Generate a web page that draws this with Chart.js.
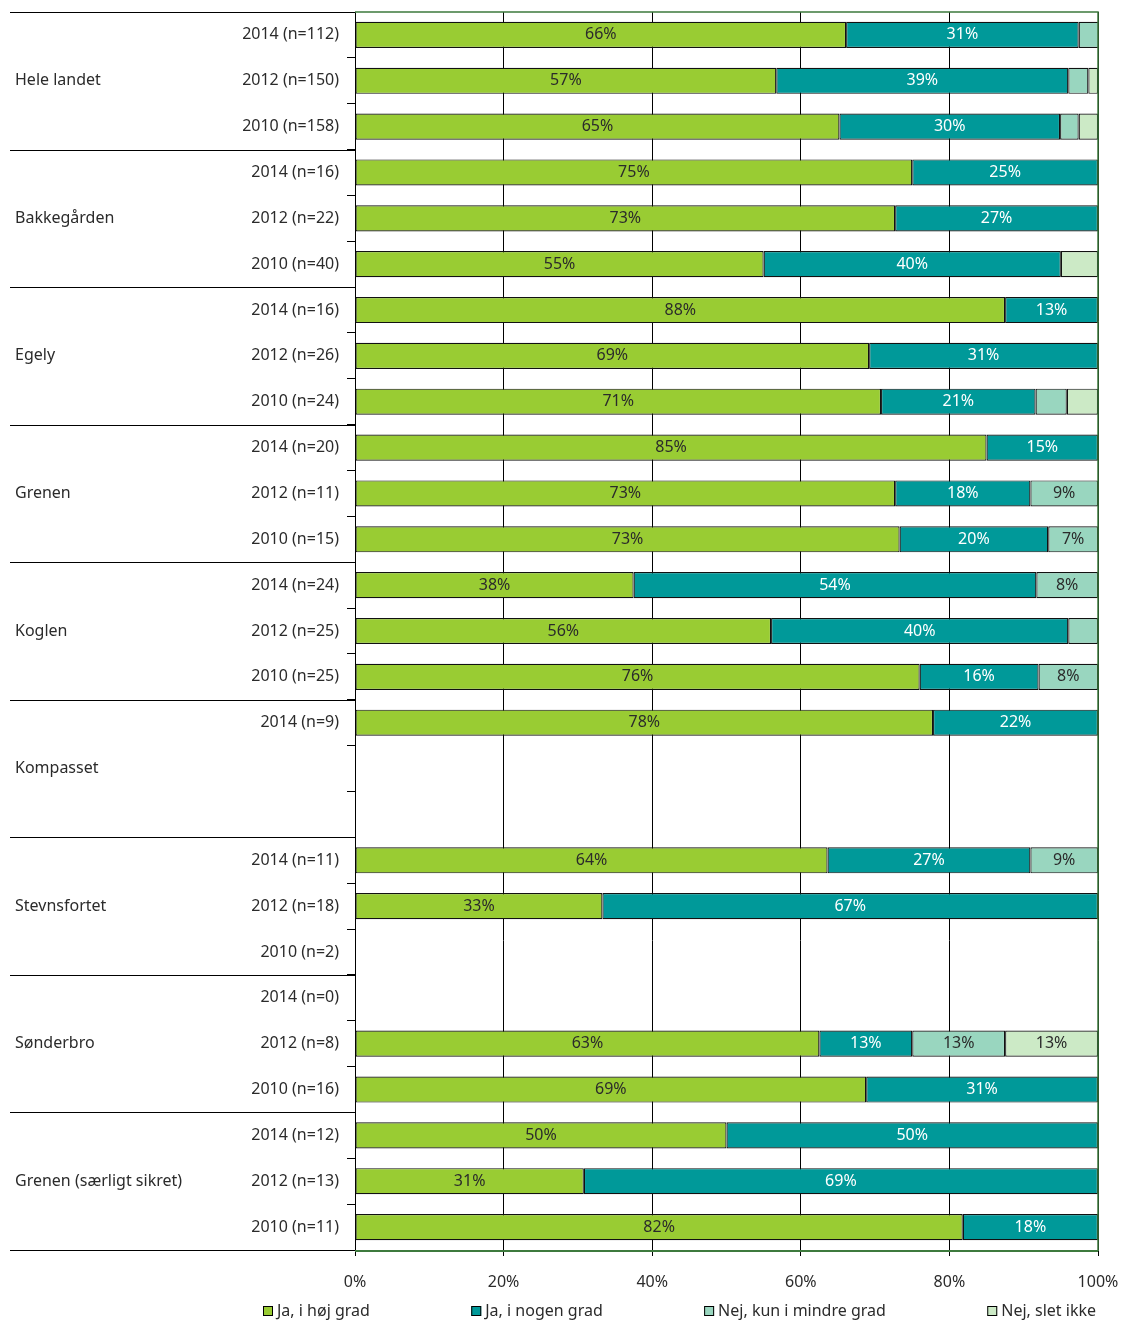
<!DOCTYPE html>
<html>
<head>
<meta charset="utf-8">
<script src="https://cdn.jsdelivr.net/npm/chart.js@4.4.1/dist/chart.umd.min.js"></script>
<style>
  html, body { margin: 0; padding: 0; background: #fff; }
  #chart { display: block; }
</style>
</head>
<body>
<canvas id="chart" width="1121" height="1321"></canvas>
<script>
// ---- データ ----
const groups = ['Hele landet', 'Bakkegården', 'Egely', 'Grenen', 'Koglen',
  'Kompasset', 'Stevnsfortet', 'Sønderbro', 'Grenen (særligt sikret)'];

const rowLabels = [
  '2014 (n=112)', '2012 (n=150)', '2010 (n=158)',
  '2014 (n=16)', '2012 (n=22)', '2010 (n=40)',
  '2014 (n=16)', '2012 (n=26)', '2010 (n=24)',
  '2014 (n=20)', '2012 (n=11)', '2010 (n=15)',
  '2014 (n=24)', '2012 (n=25)', '2010 (n=25)',
  '2014 (n=9)', '', '',
  '2014 (n=11)', '2012 (n=18)', '2010 (n=2)',
  '2014 (n=0)', '2012 (n=8)', '2010 (n=16)',
  '2014 (n=12)', '2012 (n=13)', '2010 (n=11)',
];

const seriesNames = ['Ja, i høj grad', 'Ja, i nogen grad', 'Nej, kun i mindre grad', 'Nej, slet ikke'];
const seriesColors = ['#99cc33', '#009999', '#99d6bf', '#cceac6'];

const hoejGrad = [
  66.1, 56.7, 65.2,
  75, 72.7, 55,
  87.5, 69.2, 70.8,
  85, 72.7, 73.3,
  37.5, 56, 76,
  77.8, null, null,
  63.6, 33.3, null,
  null, 62.5, 68.8,
  50, 30.8, 81.8,
];
const nogenGrad = [
  31.3, 39.3, 29.7,
  25, 27.3, 40,
  12.5, 30.8, 20.8,
  15, 18.2, 20,
  54.2, 40, 16,
  22.2, null, null,
  27.3, 66.7, null,
  null, 12.5, 31.2,
  50, 69.2, 18.2,
];
const mindreGrad = [
  2.7, 2.7, 2.5,
  null, null, null,
  null, null, 4.2,
  null, 9.1, 6.7,
  8.3, 4, 8,
  null, null, null,
  9.1, null, null,
  null, 12.5, null,
  null, null, null,
];
const sletIkke = [
  null, 1.3, 2.6,
  null, null, 5,
  null, null, 4.2,
  null, null, null,
  null, null, null,
  null, null, null,
  null, null, null,
  null, 12.5, null,
  null, null, null,
];

const xTicks = [0, 20, 40, 60, 80, 100];

const FONT = '"Noto Sans", "DejaVu Sans", sans-serif';
const FSIZE = 16;
const TEXT = '#2b2b2b';
const FRAME = '#3d7a3d';

// ---- 値ラベル（6% 以上のみ表示） ----
const valueLabels = {
  id: 'valueLabels',
  afterDatasetsDraw(chart) {
    const ctx = chart.ctx;
    ctx.save();
    ctx.font = FSIZE + 'px ' + FONT;
    ctx.textAlign = 'center';
    ctx.textBaseline = 'middle';
    chart.data.datasets.forEach((ds, di) => {
      const meta = chart.getDatasetMeta(di);
      meta.data.forEach((bar, i) => {
        const v = ds.data[i];
        if (v == null || v < 6) return;
        const cx = (bar.x + bar.base) / 2;
        ctx.fillStyle = di === 1 ? '#ffffff' : TEXT;
        ctx.fillText(Math.round(v) + '%', cx, bar.y);
      });
    });
    ctx.restore();
  },
};

// ---- グループ名・区切り線・枠線・凡例 ----
const groupDecor = {
  id: 'groupDecor',
  afterDraw(chart) {
    const ctx = chart.ctx;
    const y = chart.scales.y;
    const area = chart.chartArea;
    const step = y.getPixelForValue(1) - y.getPixelForValue(0);
    ctx.save();

    // 区切り線
    ctx.strokeStyle = '#000';
    ctx.lineWidth = 1;
    for (let g = 0; g <= groups.length; g++) {
      const py = Math.round(y.getPixelForValue(g * 3) - step / 2) + 0.5;
      ctx.beginPath();
      ctx.moveTo(10, py);
      ctx.lineTo(area.left, py);
      ctx.stroke();
    }

    // グループ名
    ctx.fillStyle = TEXT;
    ctx.font = FSIZE + 'px ' + FONT;
    ctx.textAlign = 'left';
    ctx.textBaseline = 'middle';
    groups.forEach((name, g) => {
      ctx.fillText(name, 15, y.getPixelForValue(g * 3 + 1));
    });

    // 枠（上・右・下）
    ctx.strokeStyle = FRAME;
    ctx.lineWidth = 1.5;
    ctx.beginPath();
    ctx.moveTo(area.left, area.top);
    ctx.lineTo(area.right, area.top);
    ctx.lineTo(area.right, area.bottom);
    ctx.stroke();
    ctx.lineWidth = 2;
    ctx.beginPath();
    ctx.moveTo(area.left, area.bottom + 1);
    ctx.lineTo(area.right, area.bottom + 1);
    ctx.stroke();

    // 凡例
    const legendLeft = 263, legendRight = 1096, legendY = 1311, box = 10;
    const widths = seriesNames.map((n) => box + 4 + ctx.measureText(n).width);
    const gap = (legendRight - legendLeft - widths.reduce((a, b) => a + b, 0)) / (seriesNames.length - 1);
    let lx = legendLeft;
    seriesNames.forEach((name, i) => {
      ctx.fillStyle = seriesColors[i];
      ctx.fillRect(lx, legendY - box / 2, box, box);
      ctx.strokeStyle = '#000';
      ctx.lineWidth = 1;
      ctx.strokeRect(lx + 0.5, legendY - box / 2 + 0.5, box - 1, box - 1);
      ctx.fillStyle = TEXT;
      ctx.fillText(name, lx + box + 4, legendY);
      lx += widths[i] + gap;
    });
    ctx.restore();
  },
};

// 目盛ラベルのはみ出しによる自動余白を無効化
function noAutoPadding(s) {
  s.paddingLeft = 0;
  s.paddingRight = 0;
  s.paddingTop = 0;
  s.paddingBottom = 0;
}

new Chart(document.getElementById('chart'), {
  type: 'bar',
  data: {
    labels: rowLabels,
    datasets: [hoejGrad, nogenGrad, mindreGrad, sletIkke].map((d, i) => ({
      label: seriesNames[i],
      data: d,
      backgroundColor: seriesColors[i],
      borderColor: '#111111',
      borderWidth: 1.2,
      borderSkipped: false,
      categoryPercentage: 1,
      barPercentage: 0.57,
    })),
  },
  options: {
    indexAxis: 'y',
    responsive: false,
    animation: false,
    devicePixelRatio: 1,
    layout: { padding: { top: 12, right: 23, left: 0, bottom: 0 } },
    plugins: {
      legend: { display: false },
      tooltip: { enabled: false },
    },
    scales: {
      x: {
        stacked: true,
        min: 0,
        max: 100,
        afterBuildTicks: (s) => { s.ticks = xTicks.map((v) => ({ value: v })); },
        afterFit: (s) => { s.height = 71; noAutoPadding(s); },
        grid: {
          color: '#000',
          lineWidth: 1,
          tickLength: 6,
          drawOnChartArea: true,
        },
        border: { display: true, color: FRAME, width: 1 },
        ticks: {
          padding: 17,
          color: TEXT,
          font: { family: FONT, size: FSIZE },
          callback: (v) => v + '%',
        },
      },
      y: {
        stacked: true,
        afterFit: (s) => { s.width = 355; noAutoPadding(s); },
        grid: {
          offset: true,
          drawOnChartArea: false,
          drawTicks: true,
          tickLength: 8,
          color: '#000',
        },
        border: { display: true, color: '#000', width: 1 },
        ticks: {
          padding: 8,
          color: TEXT,
          autoSkip: false,
          font: { family: FONT, size: FSIZE },
        },
      },
    },
  },
  plugins: [valueLabels, groupDecor],
});
</script>
</body>
</html>
